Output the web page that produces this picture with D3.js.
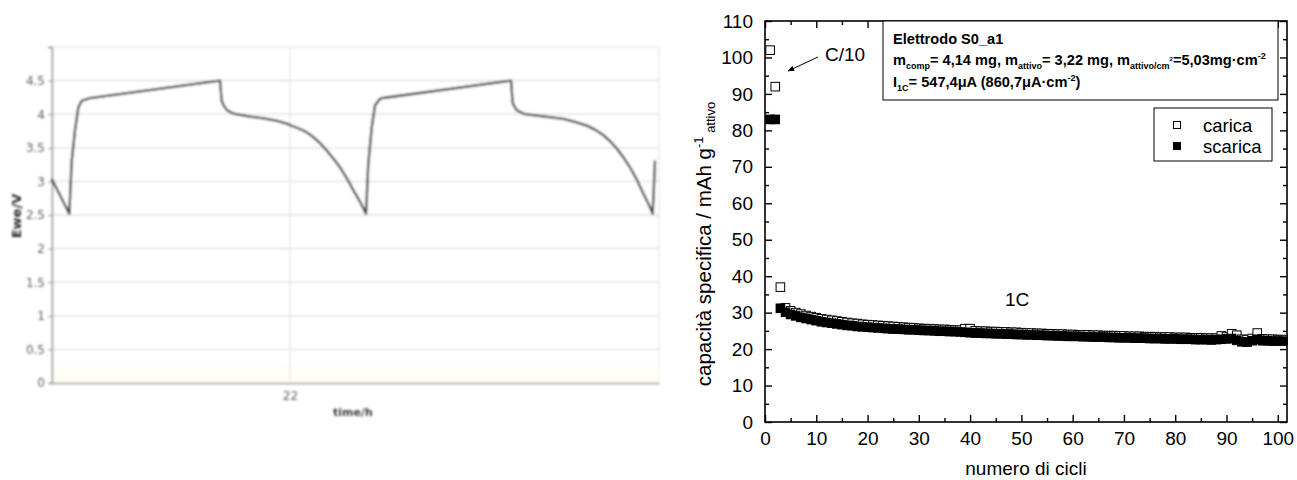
<!DOCTYPE html>
<html>
<head>
<meta charset="utf-8">
<script src="https://cdn.jsdelivr.net/npm/d3@7"></script>
<style>
  body { margin: 0; background: #fff; }
  svg { display: block; }
</style>
</head>
<body>
<svg id="chart" width="1297" height="480"></svg>
<script>
// ---------- Left panel: potential vs time ----------
const timeH = [19.617, 19.793, 19.817, 19.85, 19.883, 19.917, 20.0,
  21.30, 21.317, 21.34, 21.37, 21.433, 21.60, 21.767, 21.87, 21.967, 22.03, 22.10, 22.167,
  22.233, 22.30, 22.367, 22.433, 22.50, 22.567, 22.633, 22.70, 22.76,
  22.783, 22.817, 22.85, 22.90, 22.95,
  24.21, 24.227, 24.267, 24.35, 24.55, 24.733, 24.85, 24.967, 25.05, 25.133, 25.20,
  25.267, 25.333, 25.40, 25.467, 25.533, 25.58, 25.627, 25.65];
const potentialV = [3.04, 2.52, 3.3, 3.76, 4.1, 4.2, 4.24,
  4.5, 4.2, 4.12, 4.06, 4.01, 3.965, 3.93, 3.90, 3.86, 3.82, 3.78, 3.73,
  3.66, 3.57, 3.46, 3.34, 3.21, 3.05, 2.87, 2.70, 2.52,
  3.26, 3.8, 4.13, 4.23, 4.245,
  4.5, 4.16, 4.06, 4.0, 3.965, 3.93, 3.885, 3.83, 3.77, 3.69, 3.60,
  3.49, 3.36, 3.21, 3.03, 2.82, 2.68, 2.52, 3.31];
const timeTicks = [22];
const potentialTicks = [0, 0.5, 1, 1.5, 2, 2.5, 3, 3.5, 4, 4.5];

// ---------- Right panel: specific capacity vs cycle number ----------
const carica = [
  102, 92, 37, 31.3, 30.5, 30.0, 29.6, 29.2, 28.9, 28.6,
  28.3, 28.1, 27.9, 27.7, 27.5, 27.3, 27.1, 27.0, 26.8, 26.7,
  26.6, 26.5, 26.4, 26.3, 26.2, 26.1, 26.0, 25.9, 25.8, 25.7,
  25.6, 25.6, 25.5, 25.4, 25.4, 25.3, 25.2, 25.2, 25.6, 25.6,
  25.0, 24.9, 24.9, 24.8, 24.8, 24.7, 24.7, 24.6, 24.6, 24.5,
  24.4, 24.4, 24.3, 24.3, 24.2, 24.2, 24.1, 24.1, 24.0, 24.0,
  23.9, 23.9, 23.9, 23.8, 23.8, 23.7, 23.7, 23.7, 23.6, 23.6,
  23.5, 23.5, 23.5, 23.4, 23.4, 23.4, 23.3, 23.3, 23.3, 23.2,
  23.2, 23.2, 23.1, 23.1, 23.1, 23.0, 23.0, 23.0, 23.6, 23.3,
  24.2, 23.8, 22.7, 22.6, 22.9, 24.4, 22.8, 22.7, 22.7, 22.6,
  22.6];
const scarica = [
  83, 83, 31.2, 30.1, 29.5, 29.1, 28.7, 28.4, 28.1, 27.8,
  27.5, 27.3, 27.1, 26.9, 26.7, 26.5, 26.4, 26.2, 26.1, 26.0,
  25.9, 25.8, 25.7, 25.6, 25.5, 25.5, 25.4, 25.3, 25.3, 25.2,
  25.1, 25.1, 25.0, 24.9, 24.9, 24.8, 24.8, 24.7, 24.6, 24.5,
  24.4, 24.4, 24.3, 24.3, 24.2, 24.2, 24.1, 24.1, 24.0, 24.0,
  23.9, 23.9, 23.8, 23.8, 23.7, 23.7, 23.6, 23.6, 23.5, 23.5,
  23.5, 23.4, 23.4, 23.3, 23.3, 23.3, 23.2, 23.2, 23.1, 23.1,
  23.1, 23.0, 23.0, 23.0, 22.9, 22.9, 22.9, 22.8, 22.8, 22.8,
  22.7, 22.7, 22.7, 22.6, 22.6, 22.6, 22.5, 22.6, 22.7, 22.8,
  22.9, 22.4, 22.0, 21.9, 22.3, 22.7, 22.3, 22.3, 22.2, 22.2,
  22.2];
const cycleTicks = [0, 10, 20, 30, 40, 50, 60, 70, 80, 90, 100];
const cycleMinorTicks = [5, 15, 25, 35, 45, 55, 65, 75, 85, 95];
const capacityTicks = [0, 10, 20, 30, 40, 50, 60, 70, 80, 90, 100, 110];
const capacityMinorTicks = [5, 15, 25, 35, 45, 55, 65, 75, 85, 95, 105];
const seriesNames = ["carica", "scarica"];

const svg = d3.select("#chart");
const defs = svg.append("defs");
defs.append("filter").attr("id", "soft")
  .append("feGaussianBlur").attr("stdDeviation", 0.85);
defs.append("marker").attr("id", "arrowHead")
  .attr("viewBox", "0 0 10 10").attr("refX", 9).attr("refY", 5)
  .attr("markerWidth", 7).attr("markerHeight", 7).attr("orient", "auto")
  .append("path").attr("d", "M0,1 L10,5 L0,9 z").attr("fill", "#000");

// ===== Left panel =====
const left = svg.append("g").attr("filter", "url(#soft)");
const xT = d3.scaleLinear().domain([19.62, 25.69]).range([52, 659]);
const yV = d3.scaleLinear().domain([0, 5]).range([383, 47]);

left.append("rect").attr("x", 52).attr("y", 47).attr("width", 607).attr("height", 336)
  .attr("fill", "#fff").attr("stroke", "#e2e2e2");
left.append("rect").attr("x", 52).attr("y", yV(0.25)).attr("width", 607).attr("height", yV(0) - yV(0.25))
  .attr("fill", "#fffef4");
left.selectAll("line.hgrid").data(potentialTicks.filter(d => d > 0)).join("line")
  .attr("class", "hgrid")
  .attr("x1", 52).attr("x2", 659).attr("y1", d => yV(d)).attr("y2", d => yV(d))
  .attr("stroke", "#dedede").attr("stroke-width", 1.3);
left.selectAll("line.vgrid").data(timeTicks).join("line")
  .attr("class", "vgrid")
  .attr("x1", d => xT(d)).attr("x2", d => xT(d)).attr("y1", 47).attr("y2", 383)
  .attr("stroke", "#e6e6e6").attr("stroke-width", 1.3);

const yAxisL = d3.axisLeft(yV).tickValues(potentialTicks).tickSize(4).tickPadding(3)
  .tickFormat(d3.format("~g"));
const gyl = left.append("g").attr("transform", "translate(52,0)").call(yAxisL);
gyl.select(".domain").attr("stroke", "#8a8a8a").attr("stroke-width", 1.4);
gyl.selectAll(".tick line").attr("stroke", "#999");
gyl.selectAll(".tick text").attr("fill", "#5e5e5e")
  .style("font", "12px 'DejaVu Sans', sans-serif");

const xAxisL = d3.axisBottom(xT).tickValues(timeTicks).tickSize(0).tickPadding(8)
  .tickFormat(d3.format("d"));
const gxl = left.append("g").attr("transform", "translate(0,383)").call(xAxisL);
gxl.select(".domain").attr("stroke", "#999").attr("stroke-width", 1.7);
gxl.selectAll(".tick text").attr("fill", "#5e5e5e")
  .style("font", "12px 'DejaVu Sans', sans-serif");

left.append("text").attr("x", 353).attr("y", 416).attr("text-anchor", "middle")
  .attr("fill", "#3c3c3c").style("font", "bold 11px 'DejaVu Sans', sans-serif")
  .text("time/h");
left.append("text").attr("transform", "translate(21,216) rotate(-90)")
  .attr("text-anchor", "middle").attr("fill", "#2e2e2e")
  .style("font", "bold 13px 'DejaVu Sans', sans-serif")
  .text("Ewe/V");

const potLine = d3.line().x((d, i) => xT(timeH[i])).y(d => yV(d));
left.append("path").datum(potentialV).attr("d", potLine)
  .attr("fill", "none").attr("stroke", "#333").attr("stroke-width", 2.3)
  .attr("stroke-linejoin", "round");

// ===== Right panel =====
const FONT = "'Liberation Sans', Arial, sans-serif";
const X0 = 765, X1 = 1287, Y0 = 21, Y1 = 422;
const xC = d3.scaleLinear().domain([0, 101.8]).range([X0, X1]);
const yC = d3.scaleLinear().domain([0, 110]).range([Y1, Y0]);
const right = svg.append("g");

function styleAxis(g) {
  g.select(".domain").remove();
  g.selectAll(".tick line").attr("stroke", "#000").attr("stroke-width", 1.4);
  g.selectAll(".tick text").attr("fill", "#000").style("font", "19px " + FONT);
}
// major + minor ticks on all four sides, pointing inward
right.append("g").attr("transform", `translate(0,${Y1})`)
  .call(d3.axisBottom(xC).tickValues(cycleTicks).tickSize(-7).tickPadding(10)).call(styleAxis);
right.append("g").attr("transform", `translate(0,${Y1})`)
  .call(d3.axisBottom(xC).tickValues(cycleMinorTicks).tickSize(-4).tickFormat("")).call(styleAxis);
right.append("g").attr("transform", `translate(0,${Y0})`)
  .call(d3.axisTop(xC).tickValues(cycleTicks).tickSize(-7).tickFormat("")).call(styleAxis);
right.append("g").attr("transform", `translate(0,${Y0})`)
  .call(d3.axisTop(xC).tickValues(cycleMinorTicks).tickSize(-4).tickFormat("")).call(styleAxis);
right.append("g").attr("transform", `translate(${X0},0)`)
  .call(d3.axisLeft(yC).tickValues(capacityTicks).tickSize(-7).tickPadding(12)).call(styleAxis);
right.append("g").attr("transform", `translate(${X0},0)`)
  .call(d3.axisLeft(yC).tickValues(capacityMinorTicks).tickSize(-4).tickFormat("")).call(styleAxis);
right.append("g").attr("transform", `translate(${X1},0)`)
  .call(d3.axisRight(yC).tickValues(capacityTicks).tickSize(-7).tickFormat("")).call(styleAxis);
right.append("g").attr("transform", `translate(${X1},0)`)
  .call(d3.axisRight(yC).tickValues(capacityMinorTicks).tickSize(-4).tickFormat("")).call(styleAxis);

right.append("rect").attr("x", X0).attr("y", Y0).attr("width", X1 - X0).attr("height", Y1 - Y0)
  .attr("fill", "none").attr("stroke", "#000").attr("stroke-width", 1.6);

// data: charge as open squares, discharge as filled squares on top
const SQ = 8.6;
right.selectAll("rect.carica").data(carica).join("rect").attr("class", "carica")
  .attr("x", (d, i) => xC(i + 1) - SQ / 2).attr("y", d => yC(d) - SQ / 2)
  .attr("width", SQ).attr("height", SQ)
  .attr("fill", "#fff").attr("stroke", "#000").attr("stroke-width", 1);
right.selectAll("rect.scarica").data(scarica).join("rect").attr("class", "scarica")
  .attr("x", (d, i) => xC(i + 1) - (SQ + 1) / 2).attr("y", d => yC(d) - (SQ + 1) / 2)
  .attr("width", SQ + 1).attr("height", SQ + 1).attr("fill", "#000");

// axis titles
right.append("text").attr("x", 1026).attr("y", 475).attr("text-anchor", "middle")
  .style("font", "19px " + FONT).text("numero di cicli");
const yTitle = right.append("text").attr("transform", "translate(711,244) rotate(-90)")
  .attr("text-anchor", "middle").style("font", "20.5px " + FONT);
yTitle.append("tspan").text("capacità specifica / mAh g");
yTitle.append("tspan").attr("dy", -8).style("font-size", "13px").text("-1");
yTitle.append("tspan").attr("dy", 12).style("font-size", "13px").text(" attivo");

// annotations
right.append("text").attr("x", 845).attr("y", 61).attr("text-anchor", "middle")
  .style("font", "19px " + FONT).text("C/10");
right.append("line").attr("x1", 818).attr("y1", 57).attr("x2", 788).attr("y2", 71)
  .attr("stroke", "#000").attr("stroke-width", 1).attr("marker-end", "url(#arrowHead)");
right.append("text").attr("x", 1005).attr("y", 306)
  .style("font", "19px " + FONT).text("1C");

// info box
right.append("rect").attr("x", 883).attr("y", Y0).attr("width", 395).attr("height", 79)
  .attr("fill", "#fff").attr("stroke", "#000").attr("stroke-width", 1);
const info = right.append("g").style("font", "bold 14.6px " + FONT);
info.append("text").attr("x", 893).attr("y", 44).text("Elettrodo S0_a1");
function richLine(y, parts) {
  const t = info.append("text").attr("x", 893).attr("y", y);
  let shift = 0;
  parts.forEach(([str, kind]) => {
    const target = kind === "sub" ? 4 : kind === "sup" ? -6 : kind === "tiny" ? -4 : 0;
    const sp = t.append("tspan").attr("dy", target - shift).text(str);
    if (kind) sp.style("font-size", kind === "tiny" ? "6px" : "9px");
    shift = target;
  });
}
richLine(65, [["m", null], ["comp", "sub"], ["= 4,14 mg, m", null], ["attivo", "sub"],
  ["= 3,22 mg, m", null], ["attivo/cm", "sub"], ["2", "tiny"], ["=5,03mg·cm", null], ["-2", "sup"]]);
richLine(87, [["I", null], ["1C", "sub"], ["= 547,4μA (860,7μA·cm", null], ["-2", "sup"], [")", null]]);

// legend
right.append("rect").attr("x", 1154).attr("y", 108).attr("width", 118).attr("height", 53)
  .attr("fill", "#fff").attr("stroke", "#000").attr("stroke-width", 1);
const legend = right.selectAll("g.leg").data(seriesNames).join("g").attr("class", "leg")
  .attr("transform", (d, i) => `translate(1177,${125 + i * 21})`);
legend.append("rect").attr("x", -3.5).attr("y", -3.5).attr("width", 7).attr("height", 7)
  .attr("fill", (d, i) => i ? "#000" : "#fff").attr("stroke", "#000").attr("stroke-width", 1);
legend.append("text").attr("x", 26).attr("y", 6.5)
  .style("font", "18.5px " + FONT).text(d => d);
</script>
</body>
</html>
